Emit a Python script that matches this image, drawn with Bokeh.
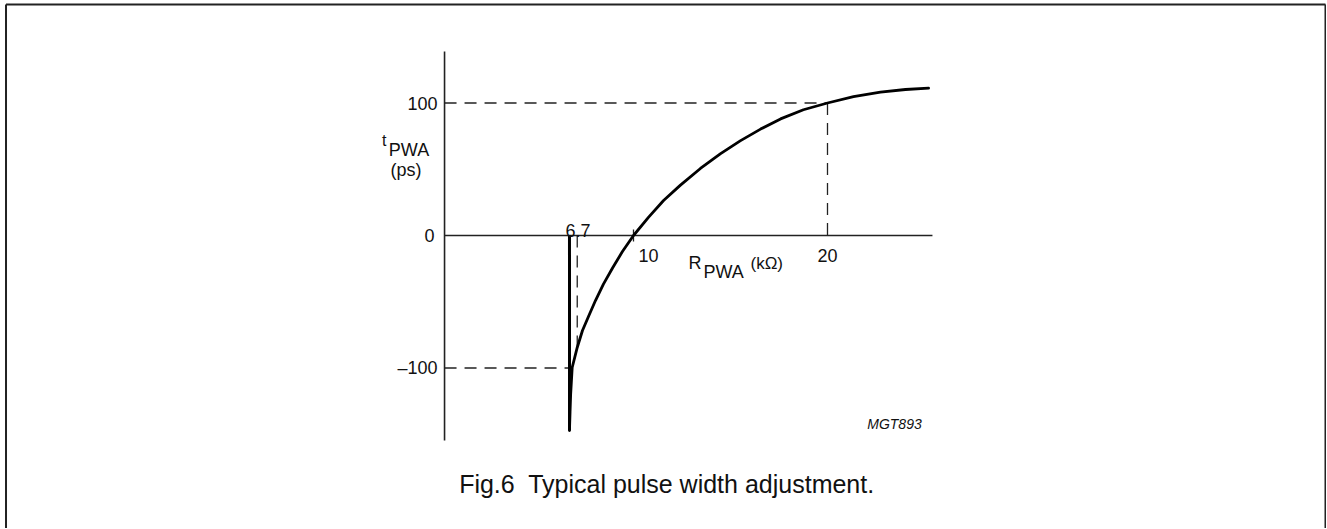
from bokeh.plotting import figure
from bokeh.models import Range1d
from bokeh.core.properties import value
from bokeh.embed import file_html
from bokeh.resources import INLINE

# ---- data ----
r_kohm = [6.70, 6.73, 6.76, 6.84, 7.10, 7.37, 7.68, 8.04, 8.45, 8.92, 9.43, 10.0,
          10.77, 11.55, 12.42, 13.45, 14.49, 15.52, 16.55, 17.58, 18.76, 20.0,
          21.34, 22.73, 24.02, 25.21]
t_ps = [-147.2, -133.0, -120.0, -99.6, -84.5, -71.7, -61.1, -49.1, -36.7, -24.5, -12.1, 0.0,
        13.7, 26.4, 38.0, 50.6, 61.8, 71.6, 80.3, 88.0, 94.9, 100.0,
        104.8, 108.2, 110.2, 111.2]

x_tick_values = [6.7, 10, 20]
x_tick_labels = ["6.7", "10", "20"]
y_tick_values = [100, 0, -100]
y_tick_labels = ["100", "0", "\u2013100"]

limit_r = 6.7        # thick vertical limit line
limit_t = -147.2
guide_r = 7.1        # dashed guide below 6.7
guide_t = -86.0
ref_r, ref_t = 20, 100   # dashed guides to (20, 100)
neg_t = -100             # dashed guide at -100

axis_r = 0.26            # position of the vertical axis
x_axis_end = 25.41
y_axis_top = 138.9
y_axis_bottom = -154.7

FONT = value("Liberation Sans")
INK = "#111111"
LINE = "#222222"

p = figure(width=1326, height=528,
           x_range=Range1d(-22.629, 45.722), y_range=Range1d(-221.13, 177.36),
           x_axis_type=None, y_axis_type=None,
           toolbar_location=None, output_backend="svg", min_border=0)
p.outline_line_color = None
p.background_fill_color = "white"
p.border_fill_color = "white"

# page frame (left, top, right; bottom runs off the page)
p.segment(x0=[-22.345, -22.345, 45.67], y0=[-230, 174.34, 174.34],
          x1=[-22.345, 45.67, 45.67], y1=[174.34, 174.34, -230],
          line_color=LINE, line_width=2)

# axes
p.segment(x0=[axis_r], y0=[0], x1=[x_axis_end], y1=[0], line_color=LINE, line_width=1.6)
p.segment(x0=[axis_r], y0=[y_axis_bottom], x1=[axis_r], y1=[y_axis_top], line_color=LINE, line_width=1.6)
# small tick at 10
p.segment(x0=[x_tick_values[1]], y0=[-4.5], x1=[x_tick_values[1]], y1=[4.5], line_color=LINE, line_width=1.3)

# dashed guides
dash = "12 8"
p.segment(x0=[axis_r, ref_r, axis_r, guide_r], y0=[ref_t, ref_t, neg_t, 0],
          x1=[ref_r, ref_r, limit_r, guide_r], y1=[ref_t, 0, neg_t, guide_t],
          line_color=LINE, line_width=1.3, line_dash=dash)

# thick limit line
p.segment(x0=[limit_r], y0=[0], x1=[limit_r], y1=[limit_t], line_color="black", line_width=3)

# curve
p.line(r_kohm, t_ps, line_color="black", line_width=2.8, line_join="round", line_cap="round")

# y tick labels
p.text(x=[-0.103, -0.258, -0.103], y=y_tick_values, text=y_tick_labels,
       text_font=FONT, text_font_size="18px", text_align="right", text_baseline="middle", text_color=INK)

# x tick labels
p.text(x=[6.49], y=[3.8], text=[x_tick_labels[0]], text_font=FONT, text_font_size="18px",
       text_align="left", text_baseline="alphabetic", text_color=INK)
p.text(x=[10.26], y=[-15.1], text=[x_tick_labels[1]], text_font=FONT, text_font_size="18px",
       text_align="left", text_baseline="alphabetic", text_color=INK)
p.text(x=[20], y=[-15.1], text=[x_tick_labels[2]], text_font=FONT, text_font_size="18px",
       text_align="center", text_baseline="alphabetic", text_color=INK)

# x axis title R_PWA (kΩ)
p.text(x=[12.84], y=[-21.1], text=["R"], text_font=FONT, text_font_size="18px",
       text_align="left", text_baseline="alphabetic", text_color=INK)
p.text(x=[13.61], y=[-27.9], text=["PWA"], text_font=FONT, text_font_size="18px",
       text_align="left", text_baseline="alphabetic", text_color=INK)
p.text(x=[16.03], y=[-21.1], text=["(k\u03a9)"], text_font=FONT, text_font_size="17px",
       text_align="left", text_baseline="alphabetic", text_color=INK)

# y axis title t_PWA (ps)
p.text(x=[-2.97], y=[71.7], text=["t"], text_font=FONT, text_font_size="16px",
       text_align="left", text_baseline="alphabetic", text_color=INK)
p.text(x=[-2.61], y=[64.2], text=["PWA"], text_font=FONT, text_font_size="18px",
       text_align="left", text_baseline="alphabetic", text_color=INK)
p.text(x=[-2.53], y=[49.4], text=["(ps)"], text_font=FONT, text_font_size="18px",
       text_align="left", text_baseline="alphabetic", text_color=INK)

# code label
p.text(x=[22.05], y=[-142.6], text=["MGT893"], text_font=FONT, text_font_size="14px",
       text_font_style="italic", text_align="left", text_baseline="alphabetic", text_color=INK)

# caption
p.text(x=[11.72], y=[-187.9], text=["Fig.6\u00a0 Typical pulse width adjustment."], text_font=FONT,
       text_font_size="25px", text_align="center", text_baseline="alphabetic", text_color=INK)

open("out.html", "w").write(file_html(p, INLINE))
